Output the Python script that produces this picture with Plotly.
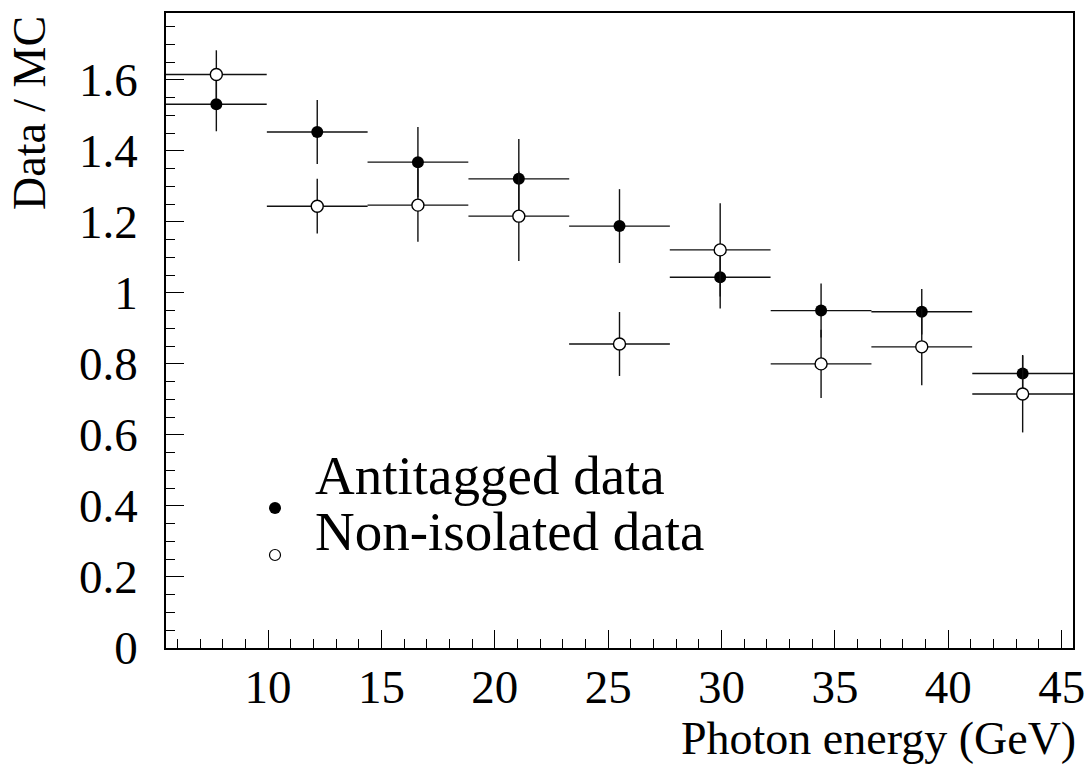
import plotly.graph_objects as go

# Bin centers (GeV): 9 bins spanning 5.5-45.5 GeV
energy = [7.72, 12.17, 16.61, 21.06, 25.50, 29.94, 34.39, 38.83, 43.28]
half_bin = [2.222] * 9

antitagged = [1.531, 1.453, 1.368, 1.321, 1.188, 1.044, 0.950, 0.947, 0.773]
antitagged_err = [0.076, 0.090, 0.099, 0.112, 0.104, 0.088, 0.076, 0.064, 0.052]

nonisolated = [1.615, 1.244, 1.247, 1.216, 0.856, 1.121, 0.800, 0.848, 0.715]
nonisolated_err = [0.068, 0.077, 0.103, 0.126, 0.090, 0.131, 0.096, 0.108, 0.108]

x_range = [5.5, 45.5]
y_range = [0, 1.788]

FONT = "Liberation Serif"
W, H = 1089, 769
L, R, T, B = 166, 16, 13, 121
pw, ph = W - L - R, H - T - B


def px(xp):
    return (xp - L) / pw


def py(yp):
    return (H - B - yp) / ph


err_style = dict(type="data", thickness=1.4, width=0, color="#111")

fig = go.Figure()
fig.add_trace(go.Scatter(
    x=energy, y=antitagged, mode="markers",
    marker=dict(symbol="circle", size=12, color="black", line=dict(width=0)),
    error_x=dict(array=half_bin, **err_style),
    error_y=dict(array=antitagged_err, **err_style),
    showlegend=False,
))
fig.add_trace(go.Scatter(
    x=energy, y=nonisolated, mode="markers",
    marker=dict(symbol="circle", size=12, color="white", line=dict(width=1.4, color="black")),
    error_x=dict(array=half_bin, **err_style),
    error_y=dict(array=nonisolated_err, **err_style),
    showlegend=False,
))

axis_common = dict(
    showline=True, linecolor="black", linewidth=1.5, mirror=True,
    ticks="inside", ticklen=18, tickwidth=1.2, tickcolor="black",
    showgrid=False, zeroline=False,
    tickfont=dict(family=FONT, size=47, color="black"),
)

fig.update_xaxes(range=x_range, tickmode="linear", tick0=0, dtick=5,
                 minor=dict(dtick=1, ticklen=9, ticks="inside", tickcolor="black", tickwidth=1.2, showgrid=False),
                 ticklabelstandoff=-3, **axis_common)
fig.update_yaxes(range=y_range, tickmode="linear", tick0=0, dtick=0.2,
                 minor=dict(dtick=0.05, ticklen=9, ticks="inside", tickcolor="black", tickwidth=1.2, showgrid=False),
                 ticklabelstandoff=17, **axis_common)

annotations = [
    dict(text="Data / MC", textangle=-90, xref="paper", yref="paper",
         x=px(29), y=py(14), xanchor="center", yanchor="top", showarrow=False,
         font=dict(family=FONT, size=46, color="black")),
    dict(text="Photon energy (GeV)", xref="paper", yref="paper",
         x=px(1078), y=py(738), xanchor="right", yanchor="middle", showarrow=False,
         font=dict(family=FONT, size=46, color="black")),
    dict(text="Antitagged data", xref="paper", yref="paper",
         x=px(313), y=py(475), xanchor="left", yanchor="middle", showarrow=False,
         font=dict(family=FONT, size=55, color="black")),
    dict(text="Non-isolated data", xref="paper", yref="paper",
         x=px(313), y=py(531), xanchor="left", yanchor="middle", showarrow=False,
         font=dict(family=FONT, size=55, color="black")),
]

shapes = [
    dict(type="circle", xref="paper", yref="paper", xsizemode="pixel", ysizemode="pixel",
         xanchor=px(275), yanchor=py(508), x0=-6, x1=6, y0=-6, y1=6,
         fillcolor="black", line=dict(width=0)),
    dict(type="circle", xref="paper", yref="paper", xsizemode="pixel", ysizemode="pixel",
         xanchor=px(275), yanchor=py(555), x0=-5.5, x1=5.5, y0=-5.5, y1=5.5,
         fillcolor="white", line=dict(width=1.2, color="black")),
]

fig.update_layout(
    width=W, height=H,
    margin=dict(l=L, r=R, t=T, b=B, autoexpand=False),
    paper_bgcolor="white", plot_bgcolor="white",
    annotations=annotations, shapes=shapes,
    font=dict(family=FONT, color="black"),
)

fig.write_html("out.html", config={"displayModeBar": False},
               post_script="document.body.style.margin='0px';document.body.style.overflow='hidden';")
